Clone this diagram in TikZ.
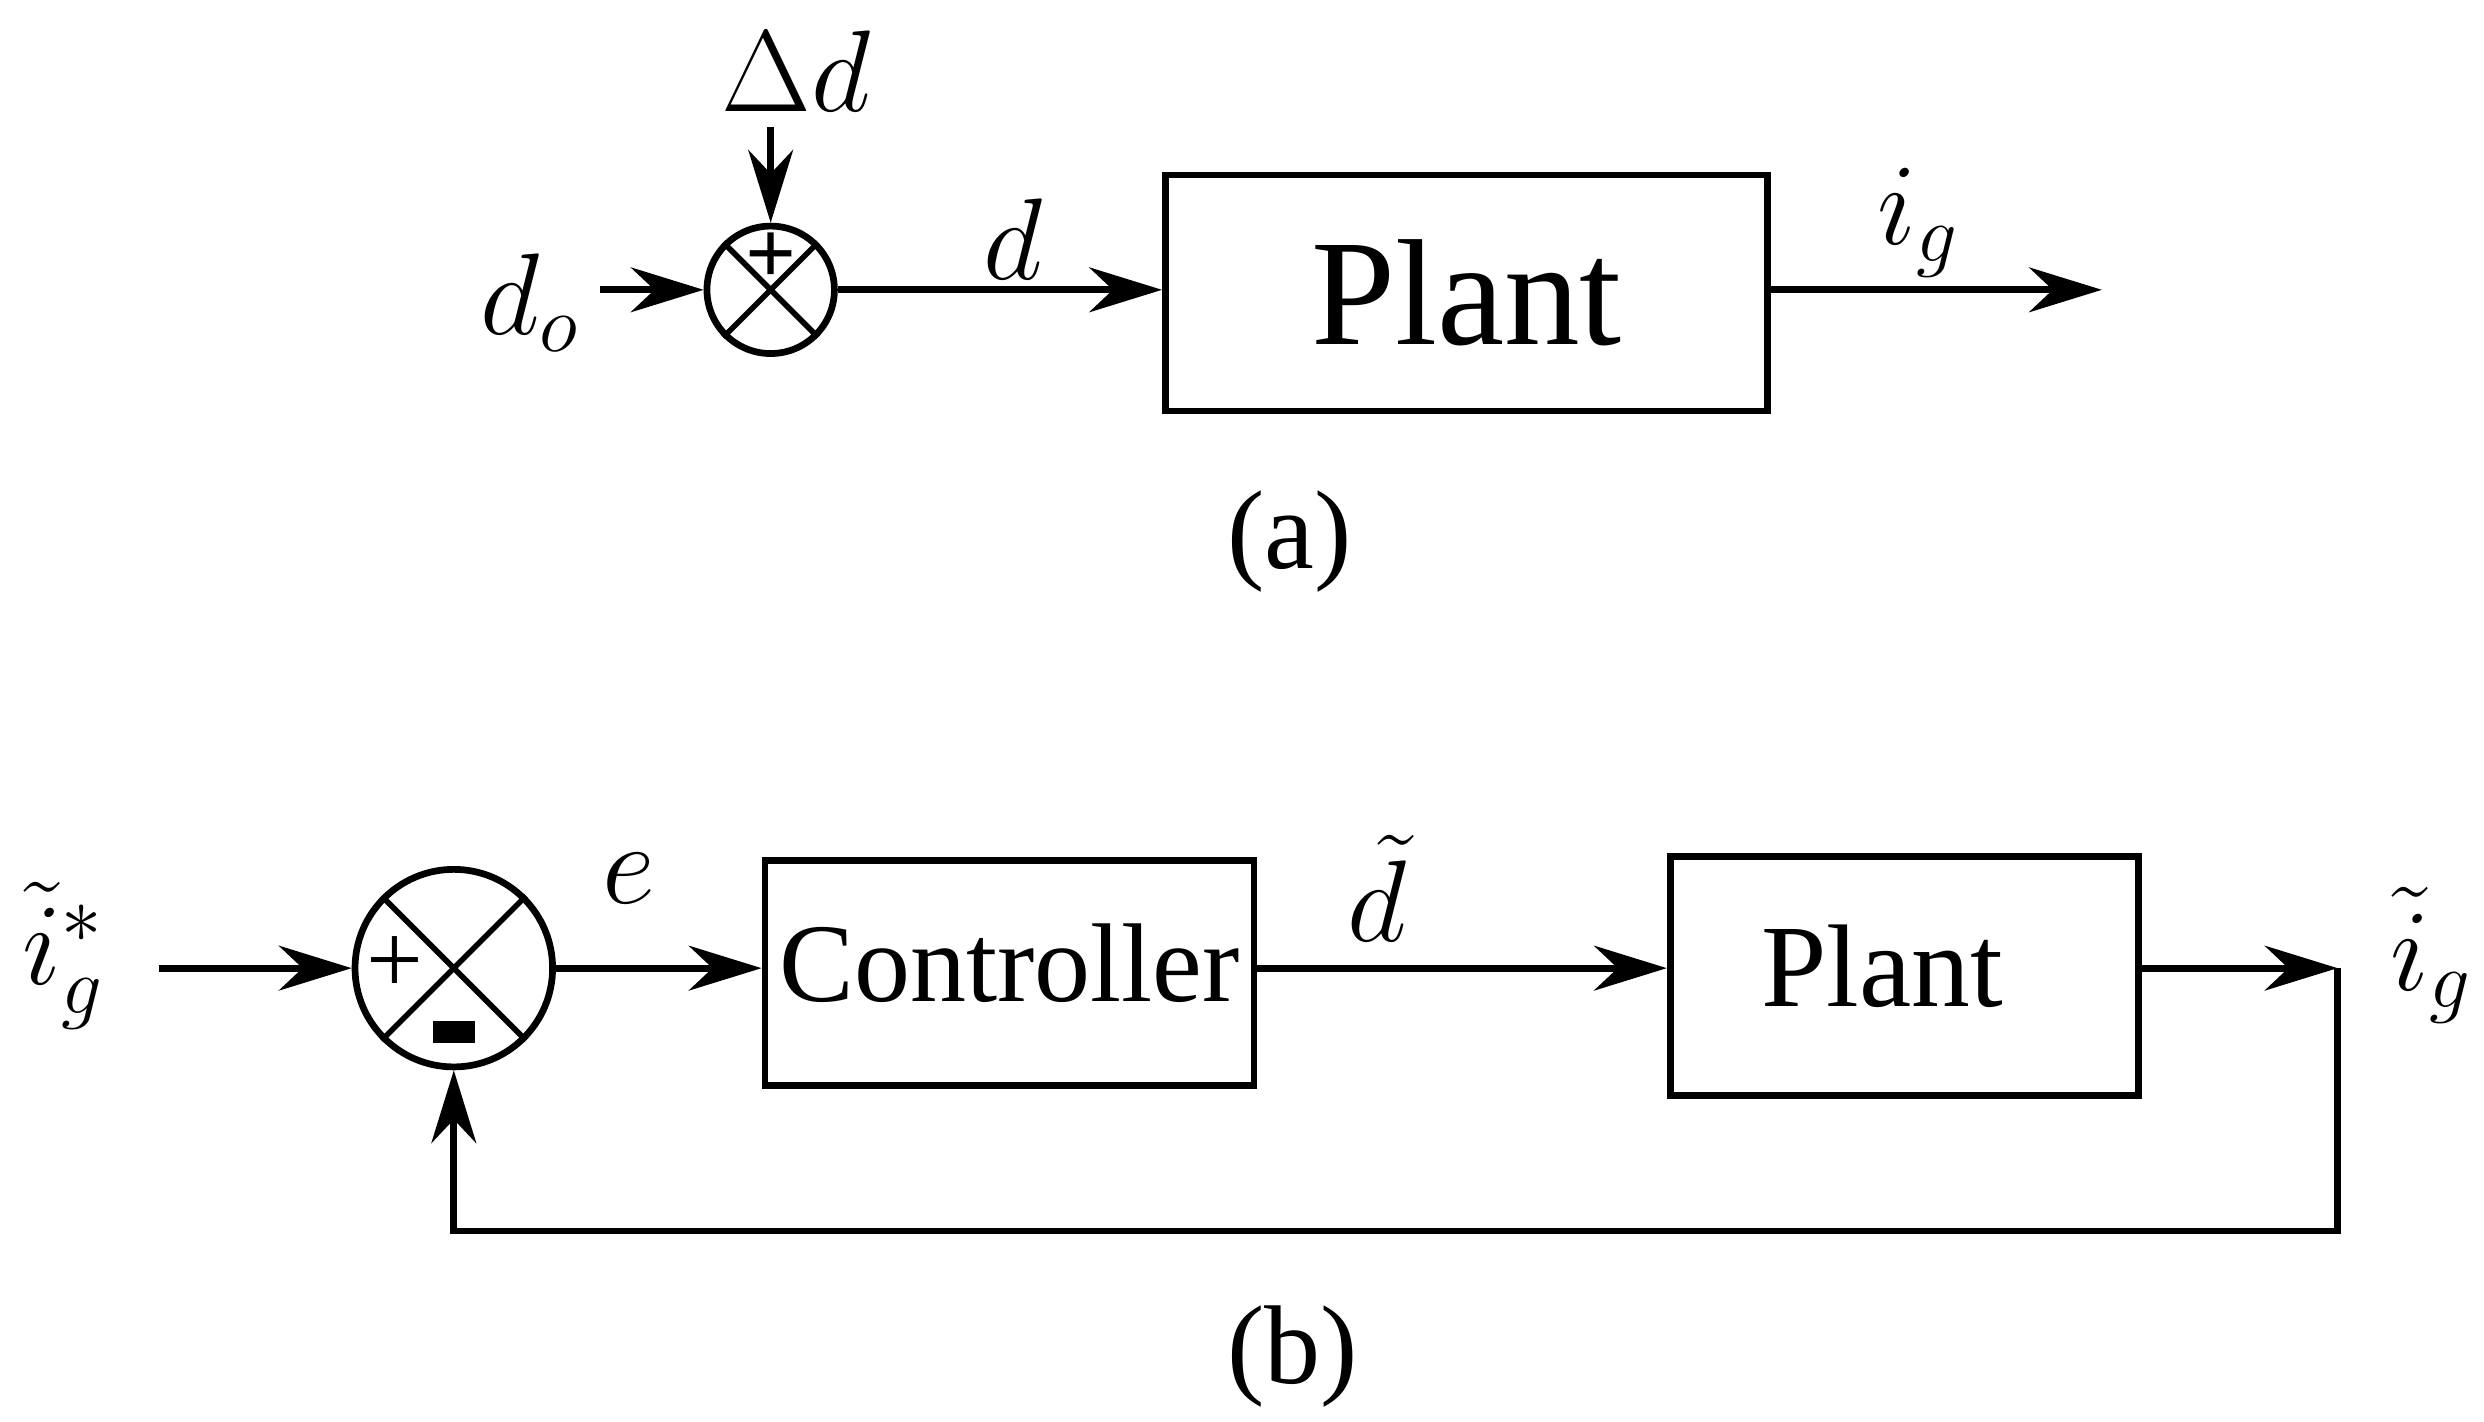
\documentclass[tikz,border=0pt]{standalone}
\usepackage{fontspec}
\setmainfont{Liberation Serif}
\usetikzlibrary{arrows.meta,positioning}
\tikzset{
  blk/.style={draw,line width=1.2pt,rectangle,inner sep=0pt},
  sumc/.style={draw,line width=1.2pt,circle,inner sep=0pt},
  sig/.style={line width=1.2pt,-{Stealth[length=13pt,width=8pt]}},
  lbl/.style={font=\fontsize{21}{23}\selectfont}
}
\newcommand{\crossin}[1]{%
  \draw[line width=1pt] (#1.45) -- (#1.225) (#1.135) -- (#1.315);}
\begin{document}
\begin{tikzpicture}[x=0.01cm,y=0.01cm]
\useasboundingbox (0,-893) rectangle (1560,0);
% (a)
\node[sumc,minimum size=0.8cm] (sa) at (484,-182) {};
\crossin{sa}
\node[font=\bfseries\fontsize{16}{16}\selectfont] at (484,-162) {+};
\node[blk,minimum width=3.78cm,minimum height=1.48cm] (pa) at (921,-184) {};
\node[font=\fontsize{27}{29}\selectfont] at (921,-184) {Plant};
\node[lbl] (dd) at (500,-45) {$\Delta d$};
\node[lbl] (do) at (333,-190) {$d_o$};
\coordinate (ya) at (1320,-182);
\draw[sig] (484,-80) -- (sa);
\draw[sig] (do.east |- sa) -- (sa);
\draw[sig] (sa) -- (pa.west |- sa);
\draw[sig] (pa.east |- sa) -- (ya);
\node[lbl] at (636,-150) {$d$};
\node[lbl] at (1205,-140) {$i_g$};
\node[font=\fontsize{20}{22}\selectfont] at (810,-340) {(a)};
% (b)
\node[sumc,minimum size=1.24cm] (sb) at (285,-608) {};
\crossin{sb}
\node[font=\fontsize{18}{18}\selectfont] at (248,-606) {+};
\draw[line width=4pt] (272,-648) -- (298,-648);
\node[blk,minimum width=3.07cm,minimum height=1.41cm] (ctrl) at (634,-611) {};
\node[font=\fontsize{20}{22}\selectfont] at (634,-605) {Controller};
\node[blk,minimum width=2.94cm,minimum height=1.5cm] (pb) at (1196,-613) {};
\node[font=\fontsize{21}{23}\selectfont] at (1182,-607) {Plant};
\node[lbl] (ref) at (40,-600) {$\tilde{i}_g^{*}$};
\node[lbl] at (1527,-600) {$\tilde{i}_g$};
\coordinate (yb) at (1468,-608);
\coordinate (fb) at (1468,-773);
\coordinate (fl) at (285,-773);
\draw[sig] (100,-608) -- (sb.west);
\draw[sig] (sb.east) -- (ctrl.west |- sb);
\draw[sig] (ctrl.east |- sb) -- (pb.west |- sb);
\draw[sig] (pb.east |- sb) -- (yb);
\draw[sig] (yb) -- (fb) -- (fl) -- (sb.south);
\node[lbl] at (395,-552) {$e$};
\node[lbl] at (865,-558) {$\tilde{d}$};
\node[font=\fontsize{20}{22}\selectfont] at (812,-852) {(b)};
\end{tikzpicture}
\end{document}
